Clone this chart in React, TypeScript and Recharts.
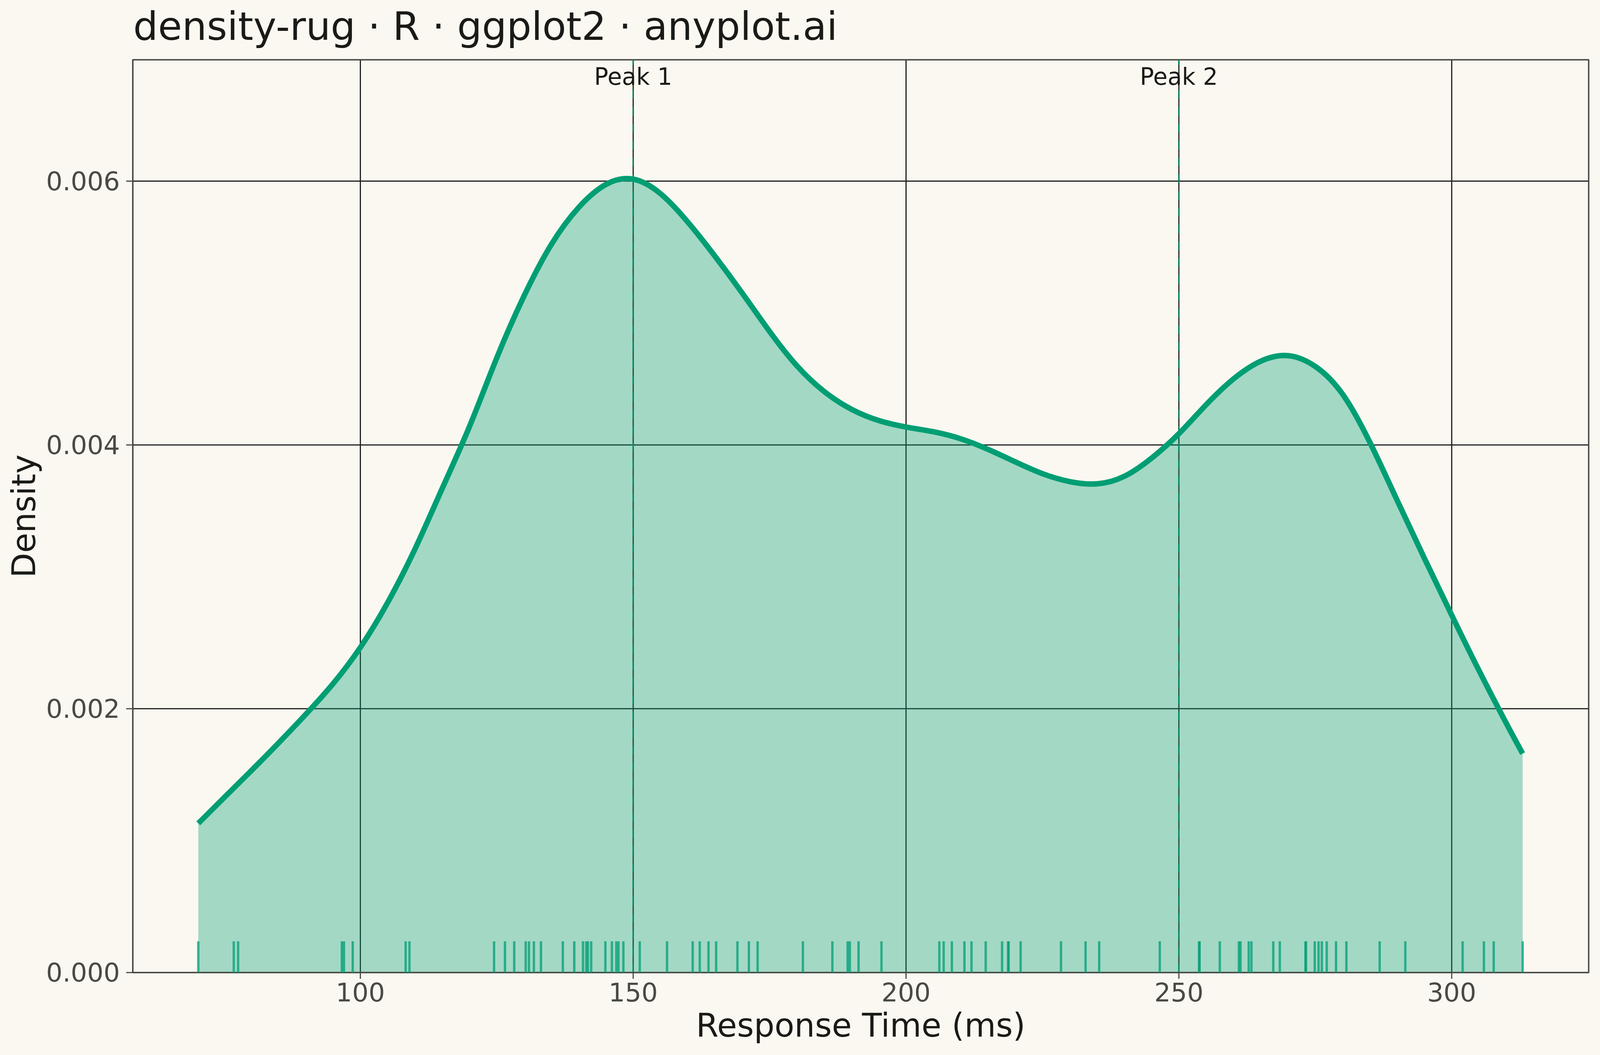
import React from 'react';
import {
  ComposedChart,
  Area,
  Scatter,
  XAxis,
  YAxis,
  CartesianGrid,
  ReferenceLine,
  ReferenceArea,
} from 'recharts';

// ---- data ----
const densityX = [
  70.3, 75, 80, 85, 90, 95, 100, 105, 110, 115, 120, 125, 130, 135, 140, 145, 150,
  155, 160, 165, 170, 175, 180, 185, 190, 195, 200, 205, 210, 215, 220, 225, 230, 235,
  240, 245, 250, 255, 260, 265, 270, 275, 280, 285, 290, 295, 300, 305, 310, 313,
];
const densityY = [
  0.001131, 0.001325, 0.00153, 0.00174, 0.001958, 0.00219, 0.002465, 0.002805, 0.00321,
  0.00367, 0.00414, 0.00466, 0.00513, 0.00552, 0.0058, 0.005975, 0.006015,
  0.005905, 0.00569, 0.00543, 0.00515, 0.00486, 0.0046, 0.004405, 0.00427, 0.004185, 0.004136,
  0.0041, 0.004047, 0.003967, 0.003872, 0.003782, 0.003722, 0.003705, 0.003762, 0.0039,
  0.004085, 0.004305, 0.0045, 0.004635, 0.004677, 0.004595, 0.004385, 0.00402,
  0.00358, 0.00314, 0.00271, 0.00229, 0.00189, 0.00166,
];
const rugValues = [
  70.3, 76.8, 77.6, 96.6, 97.0, 98.6, 108.3, 109.0, 124.5, 126.5, 128.2, 130.3, 130.9,
  131.8, 133.1, 137.1, 139.2, 140.8, 141.4, 141.7, 142.3, 144.9, 146.1, 146.9, 147.3,
  148.2, 151.2, 156.2, 160.9, 162.2, 163.8, 165.2, 169.1, 171.2, 172.8, 181.1, 186.5,
  189.3, 189.7, 191.3, 195.5, 206.1, 206.9, 208.4, 210.7, 212.0, 214.6, 217.6, 218.7,
  218.8, 221.0, 228.4, 232.9, 235.4, 246.5, 253.7, 253.8, 257.5, 261.0, 261.3, 262.8,
  263.3, 267.3, 268.5, 273.2, 273.3, 274.9, 275.6, 276.2, 277.1, 278.8, 280.7, 286.8,
  291.5, 302.0, 305.9, 307.7, 313.0,
];
const xTicks = [100, 150, 200, 250, 300];
const yTicks = [0, 0.002, 0.004, 0.006];
const peakXs = [150, 250];
const peakLabels = ['Peak 1', 'Peak 2'];
const xDomain = [58.3, 325.1];
const yDomain = [0, 0.00692];

const titleText = 'density-rug · R · ggplot2 · anyplot.ai';
const xTitle = 'Response Time (ms)';
const yTitle = 'Density';

const densityData = densityX.map((x, i) => ({ x, density: densityY[i] }));
const rugData = rugValues.map((x) => ({ x, y: 0 }));

// ---- layout (the browser viewport is 4096 px wide) ----
const W = 4096;
const H = 2700;
const PLOT_LEFT = 340;
const PLOT_RIGHT = 4067;
const PLOT_TOP = 153;
const PLOT_BOTTOM = 2489;

// ---- styling ----
const BG = '#FAF8F1';
const GREEN = '#009E73';
const INK = '#1A1A17';
const MUTED = '#4A4A44';
const FONT = '"DejaVu Sans", sans-serif';

const RugTick = (props: any) => {
  const { cx, cy } = props;
  if (cx == null || cy == null) return null;
  return (
    <line
      x1={cx}
      x2={cx}
      y1={cy}
      y2={cy - 80}
      stroke={GREEN}
      strokeOpacity={0.75}
      strokeWidth={6}
    />
  );
};

const PeakLabel = (props: any) => {
  const { viewBox, text } = props;
  if (!viewBox) return null;
  return (
    <text
      x={viewBox.x}
      y={viewBox.y + 64}
      textAnchor="middle"
      fontSize={60}
      fontFamily={FONT}
      fill={INK}
    >
      {text}
    </text>
  );
};

export default function App() {
  return (
    <div
      style={{
        position: 'absolute',
        left: 0,
        top: 0,
        width: W,
        height: H,
        background: BG,
        fontFamily: FONT,
        overflow: 'hidden',
      }}
    >
      <ComposedChart
        width={W}
        height={H}
        margin={{ top: PLOT_TOP, right: W - PLOT_RIGHT, bottom: 0, left: 0 }}
        style={{ background: BG }}
      >
        <CartesianGrid stroke="#1F1F1C" strokeWidth={3} />
        <XAxis
          type="number"
          dataKey="x"
          domain={xDomain}
          ticks={xTicks}
          allowDataOverflow
          height={H - PLOT_BOTTOM}
          tickSize={16}
          tickMargin={11}
          tick={{ fontSize: 66, fill: MUTED, fontFamily: FONT }}
          tickLine={{ stroke: MUTED, strokeWidth: 3 }}
          axisLine={{ stroke: MUTED, strokeWidth: 3 }}
        />
        <YAxis
          type="number"
          domain={yDomain}
          ticks={yTicks}
          allowDataOverflow
          width={PLOT_LEFT}
          tickSize={17}
          tickMargin={16}
          tickFormatter={(v: number) => v.toFixed(3)}
          tick={{ fontSize: 66, fill: MUTED, fontFamily: FONT }}
          tickLine={{ stroke: MUTED, strokeWidth: 3 }}
          axisLine={{ stroke: MUTED, strokeWidth: 3 }}
        />
        <Area
          data={densityData}
          dataKey="density"
          type="natural"
          stroke={GREEN}
          strokeWidth={14}
          fill={GREEN}
          fillOpacity={0.35}
          isAnimationActive={false}
          dot={false}
          activeDot={false}
        />
        <Scatter
          data={rugData}
          dataKey="y"
          shape={<RugTick />}
          isAnimationActive={false}
        />
        {peakXs.map((px, i) => (
          <ReferenceLine
            key={px}
            x={px}
            stroke={GREEN}
            strokeOpacity={0.7}
            strokeWidth={4}
            strokeDasharray="22 21"
            label={<PeakLabel text={peakLabels[i]} />}
          />
        ))}
        <ReferenceArea
          x1={xDomain[0]}
          x2={xDomain[1]}
          y1={yDomain[0]}
          y2={yDomain[1]}
          fill="none"
          fillOpacity={0}
          stroke={MUTED}
          strokeWidth={3}
        />
      </ComposedChart>
      <svg
        width={W}
        height={H}
        style={{ position: 'absolute', left: 0, top: 0, pointerEvents: 'none' }}
      >
        <text x={PLOT_LEFT + 1} y={102} fontSize={100} fontFamily={FONT} fill={INK}>
          {titleText}
        </text>
        <text
          x={(PLOT_LEFT + PLOT_RIGHT) / 2}
          y={2653}
          textAnchor="middle"
          fontSize={83}
          fontFamily={FONT}
          fill={INK}
        >
          {xTitle}
        </text>
        <text
          transform={`translate(90,${(PLOT_TOP + PLOT_BOTTOM) / 2}) rotate(-90)`}
          textAnchor="middle"
          fontSize={83}
          fontFamily={FONT}
          fill={INK}
        >
          {yTitle}
        </text>
      </svg>
    </div>
  );
}
